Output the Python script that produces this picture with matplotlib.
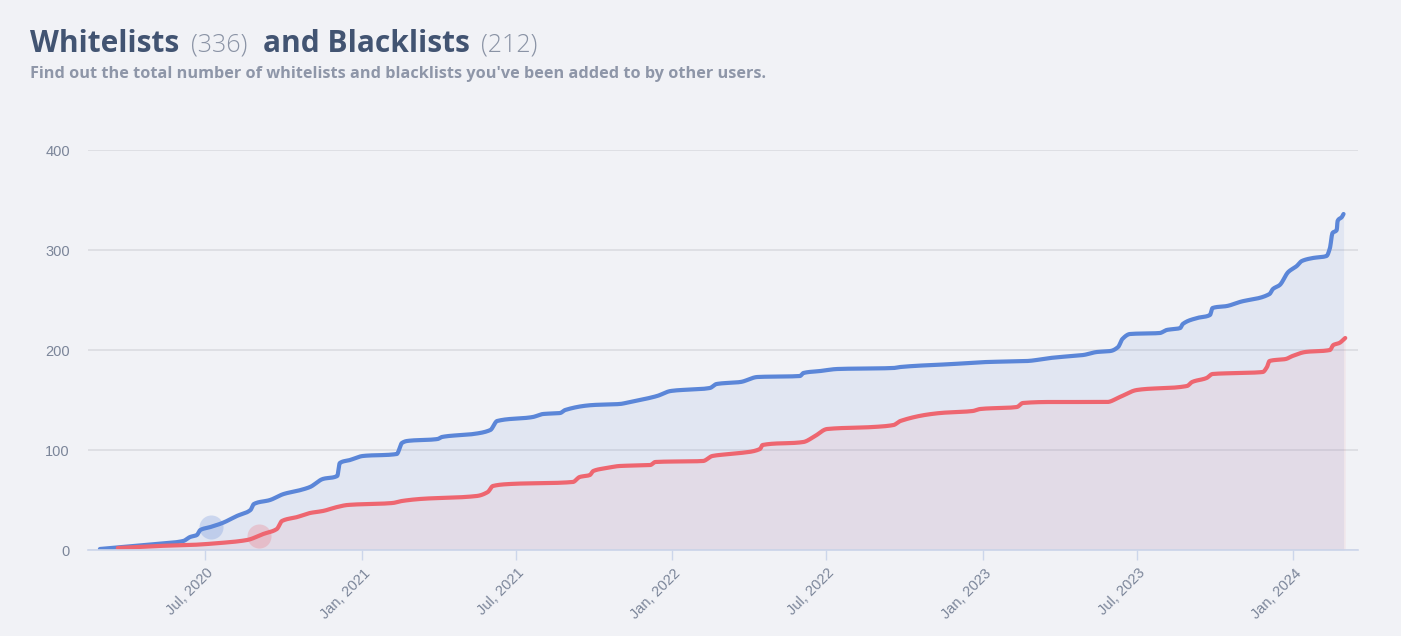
import numpy as np
import matplotlib
matplotlib.use("Agg")
import matplotlib.pyplot as plt
import matplotlib.dates as mdates
import matplotlib.transforms as mtransforms

# ---------------- data ----------------
whitelist_dates = [
    "2020-02-28", "2020-05-05", "2020-06-05", "2020-06-13", "2020-06-21", "2020-06-25",
    "2020-07-07", "2020-07-21", "2020-08-07", "2020-08-23", "2020-08-27", "2020-09-15",
    "2020-10-01", "2020-10-21", "2020-11-01", "2020-11-16", "2020-12-03", "2020-12-06",
    "2020-12-18", "2021-01-02", "2021-02-11", "2021-02-17", "2021-02-23", "2021-03-31",
    "2021-04-05", "2021-05-12", "2021-06-01", "2021-06-09", "2021-07-21", "2021-08-02",
    "2021-08-22", "2021-08-28", "2021-09-30", "2021-10-31", "2021-11-12", "2021-12-14",
    "2021-12-30", "2022-02-14", "2022-02-22", "2022-03-22", "2022-04-11", "2022-05-31",
    "2022-06-04", "2022-06-24", "2022-07-14", "2022-09-18", "2022-09-26", "2022-11-27",
    "2023-01-06", "2023-02-22", "2023-03-21", "2023-04-02", "2023-04-29", "2023-05-15",
    "2023-05-31", "2023-06-09", "2023-06-14", "2023-06-23", "2023-07-28", "2023-08-05",
    "2023-08-21", "2023-08-24", "2023-09-10", "2023-09-25", "2023-09-28", "2023-10-15",
    "2023-10-30", "2023-12-04", "2023-12-08", "2023-12-16", "2023-12-26", "2024-01-05",
    "2024-01-11", "2024-01-24", "2024-02-09", "2024-02-13", "2024-02-16", "2024-02-21",
    "2024-02-22", "2024-02-27", "2024-02-29",
]
whitelist_counts = [
    1, 6, 9, 13, 15, 20,
    23, 27, 34, 40, 46, 50,
    56, 60, 63, 71, 74, 87,
    90, 94, 96, 107, 109, 111,
    113, 116, 120, 129, 133, 136,
    137, 140, 145, 146, 148, 154,
    159, 162, 166, 168, 173, 174,
    177, 179, 181, 182, 183, 186,
    188, 189, 192, 193, 195, 198,
    199, 203, 211, 216, 217, 220,
    222, 226, 232, 235, 242, 244,
    248, 256, 261, 265, 278, 284,
    289, 292, 294, 302, 317, 320,
    329, 333, 336,
]

blacklist_dates = [
    "2020-03-20", "2020-05-05", "2020-06-13", "2020-07-18", "2020-08-19", "2020-09-07",
    "2020-09-23", "2020-09-29", "2020-10-17", "2020-11-01", "2020-11-16", "2020-12-03",
    "2020-12-15", "2021-02-06", "2021-02-17", "2021-03-10", "2021-05-16", "2021-05-29",
    "2021-06-04", "2021-06-24", "2021-09-06", "2021-09-14", "2021-09-26", "2021-09-30",
    "2021-10-16", "2021-10-31", "2021-12-06", "2021-12-12", "2022-02-06", "2022-02-17",
    "2022-03-10", "2022-03-22", "2022-04-14", "2022-04-17", "2022-06-04", "2022-06-16",
    "2022-07-02", "2022-08-25", "2022-09-18", "2022-09-26", "2022-11-12", "2022-12-20",
    "2022-12-29", "2023-02-10", "2023-02-17", "2023-03-21", "2023-05-27", "2023-06-11",
    "2023-07-01", "2023-08-29", "2023-09-04", "2023-09-21", "2023-09-28", "2023-10-30",
    "2023-11-26", "2023-12-01", "2023-12-04", "2023-12-23", "2023-12-31", "2024-01-15",
    "2024-02-13", "2024-02-17", "2024-02-24", "2024-03-02",
]
blacklist_counts = [
    2, 4, 5, 7, 10, 16,
    21, 29, 33, 37, 39, 43,
    45, 47, 49, 51, 54, 58,
    64, 66, 68, 73, 75, 79,
    82, 84, 85, 88, 89, 94,
    96, 97, 101, 105, 108, 113,
    121, 123, 125, 129, 137, 139,
    141, 143, 147, 148, 148, 153,
    160, 164, 168, 172, 176, 177,
    178, 183, 189, 191, 194, 198,
    200, 205, 207, 212,
]

x_tick_dates = ["2020-07-01", "2021-01-01", "2021-07-01", "2022-01-01",
                "2022-07-01", "2023-01-01", "2023-07-01", "2024-01-01"]
y_ticks = [0, 100, 200, 300, 400]
x_range = ["2020-02-14", "2024-03-17"]
highlight_white = "2020-07-08"
highlight_black = "2020-09-02"

title_left = "Whitelists"
title_right = "and Blacklists"
subtitle = "Find out the total number of whitelists and blacklists you've been added to by other users."

# ---------------- styles ----------------
BG = "#f1f2f6"
BLUE = "#5b86d8"
RED = "#ee6670"
TITLE_C = "#425472"
COUNT_C = "#8a93a5"
SUB_C = "#8e96a8"
TICK_C = "#7b8599"
GRID_C = "#dcdde3"
AXIS_C = "#ccd6eb"


def to_num(dates):
    return mdates.date2num(np.array(dates, dtype="datetime64[D]"))


def pchip(x, y, xn):
    x = np.asarray(x, float)
    y = np.asarray(y, float)
    h = np.diff(x)
    d = np.diff(y) / h
    n = len(x)
    m = np.zeros(n)
    for k in range(1, n - 1):
        if d[k - 1] * d[k] > 0:
            w1 = 2 * h[k] + h[k - 1]
            w2 = h[k] + 2 * h[k - 1]
            m[k] = (w1 + w2) / (w1 / d[k - 1] + w2 / d[k])
    m[0] = d[0]
    m[-1] = d[-1]
    idx = np.clip(np.searchsorted(x, xn) - 1, 0, n - 2)
    hk = h[idx]
    t = (xn - x[idx]) / hk
    h00 = 2 * t**3 - 3 * t**2 + 1
    h10 = t**3 - 2 * t**2 + t
    h01 = -2 * t**3 + 3 * t**2
    h11 = t**3 - t**2
    return h00 * y[idx] + h10 * hk * m[idx] + h01 * y[idx + 1] + h11 * hk * m[idx + 1]


wx = to_num(whitelist_dates)
bx = to_num(blacklist_dates)
wxs = np.linspace(wx[0], wx[-1], 4000)
bxs = np.linspace(bx[0], bx[-1], 4000)
wys = pchip(wx, whitelist_counts, wxs)
bys = pchip(bx, blacklist_counts, bxs)

W, H = 1401, 636
fig = plt.figure(figsize=(W / 100, H / 100), dpi=100, facecolor=BG)
ax = fig.add_axes([88 / W, 1 - 550 / H, (1358 - 88) / W, 400 / H])
ax.set_facecolor(BG)

ax.fill_between(wxs, 0, wys, color=BLUE, alpha=0.10, lw=0, zorder=2)
ax.fill_between(bxs, 0, bys, color=RED, alpha=0.08, lw=0, zorder=2)
ax.plot(wxs, wys, color=BLUE, lw=3.0, solid_capstyle="round", zorder=4)
ax.plot(bxs, bys, color=RED, lw=3.0, solid_capstyle="round", zorder=4)

hw = to_num([highlight_white])
hb = to_num([highlight_black])
ax.scatter(hw, pchip(wx, whitelist_counts, hw), s=300, color=BLUE, alpha=0.25, lw=0, zorder=5)
ax.scatter(hb, pchip(bx, blacklist_counts, hb), s=300, color=RED, alpha=0.25, lw=0, zorder=5)

xr = to_num(x_range)
ax.set_xlim(xr[0], xr[1])
ax.set_ylim(y_ticks[0], y_ticks[-1])

ax.set_yticks(y_ticks)
ax.set_yticklabels([str(v) for v in y_ticks])
ax.yaxis.grid(True, color=GRID_C, lw=1.3, zorder=0)
ax.set_axisbelow(True)
ax.tick_params(axis="y", length=0, pad=13, labelsize=10.5, labelcolor=TICK_C)

xt = to_num(x_tick_dates)
ax.set_xticks(xt)
ax.xaxis.set_major_formatter(mdates.DateFormatter("%b, %Y"))
ax.tick_params(axis="x", direction="out", length=7.5, width=1, color=AXIS_C,
               labelsize=10.5, labelcolor=TICK_C, pad=4)
offset = mtransforms.ScaledTranslation(1 / 100, 0, fig.dpi_scale_trans)
for lab in ax.get_xticklabels():
    lab.set_rotation(45)
    lab.set_ha("right")
    lab.set_va("top")
    lab.set_rotation_mode("anchor")
    lab.set_transform(lab.get_transform() + offset)

for s in ["top", "right", "left"]:
    ax.spines[s].set_visible(False)
ax.spines["bottom"].set_color(AXIS_C)
ax.spines["bottom"].set_linewidth(1.2)
ax.spines["bottom"].set_zorder(6)

for lab in ax.get_xticklabels() + ax.get_yticklabels():
    lab.set_family(["Liberation Sans", "DejaVu Sans"])

# ---------------- titles ----------------
def ftx(px, py, s, **kw):
    return fig.text(px / W, 1 - py / H, s, va="baseline", ha="left", **kw)

ftx(30, 52, title_left, fontsize=21.5, fontweight="bold", color=TITLE_C, family="Open Sans")
ftx(191, 52, f"({whitelist_counts[-1]})", fontsize=18, fontweight="light", color=COUNT_C, family="Open Sans")
ftx(263, 52, title_right, fontsize=21.5, fontweight="bold", color=TITLE_C, family="Open Sans")
ftx(481, 52, f"({blacklist_counts[-1]})", fontsize=18, fontweight="light", color=COUNT_C, family="Open Sans")
ftx(30, 78, subtitle, fontsize=11.7, fontweight="bold", color=SUB_C, family="Open Sans")

fig.savefig("out.png", dpi=100, facecolor=BG)
